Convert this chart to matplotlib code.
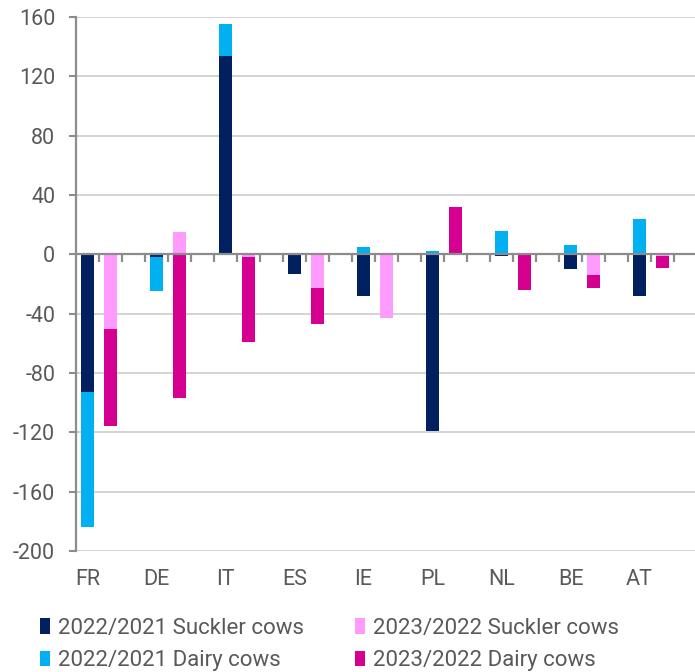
import numpy as np
import matplotlib
matplotlib.use("Agg")
import matplotlib.pyplot as plt

countries = ['FR', 'DE', 'IT', 'ES', 'IE', 'PL', 'NL', 'BE', 'AT']
suckler_21 = [-93, -2, 134, -13, -28, -119, -1, -10, -28]
dairy_21 = [-91, -23, 21, 1, 5, 2, 16, 6, 24]
suckler_23 = [-50, 15, -2, -23, -43, 0, 1, -14, -1]
dairy_23 = [-66, -97, -57, -24, 0, 32, -24, -9, -8]

yticks = [-200, -160, -120, -80, -40, 0, 40, 80, 120, 160]

c_suck21 = '#002060'
c_dairy21 = '#00B0F0'
c_suck23 = '#FF9BFF'
c_dairy23 = '#D5008F'
txt = '#595959'
axis_gray = '#8C8C8C'

plt.rcParams['font.family'] = ['Roboto', 'DejaVu Sans']

def stack_base(top, base):
    top = np.asarray(top, float)
    base = np.asarray(base, float)
    same = np.sign(top) == np.sign(base)
    return np.where(same, base, 0.0)

fig = plt.figure(figsize=(6.95, 6.72), dpi=100)
ax = fig.add_axes([76/695, 1-551/672, (694.7-76)/695, (551-17)/672])

x1 = np.arange(len(countries)) * 3
x2 = x1 + 1
w = 0.6

ax.bar(x1, suckler_21, w, color=c_suck21, zorder=3, label='2022/2021 Suckler cows')
ax.bar(x1, dairy_21, w, bottom=stack_base(dairy_21, suckler_21), color=c_dairy21, zorder=3,
       label='2022/2021 Dairy cows')
ax.bar(x2, suckler_23, w, color=c_suck23, zorder=3, label='2023/2022 Suckler cows')
ax.bar(x2, dairy_23, w, bottom=stack_base(dairy_23, suckler_23), color=c_dairy23, zorder=3,
       label='2023/2022 Dairy cows')

ax.set_xlim(-0.5, 26.4)
ax.set_ylim(-200, 160)
ax.set_yticks(yticks)
ax.set_yticklabels([str(v) for v in yticks])
ax.yaxis.grid(True, color='#D0D0D0', lw=1.3, zorder=0)
ax.set_axisbelow(True)

# zero axis line with small category ticks
ax.axhline(0, color=axis_gray, lw=1.6, zorder=4)
bounds = np.arange(1, 27) - 0.5
ax.vlines(bounds, -5, 0, color=axis_gray, lw=1.6, zorder=2)

ax.set_xticks(x1)
ax.set_xticklabels(countries)
ax.tick_params(axis='x', length=0, pad=13, labelsize=15.5, labelcolor=txt)
ax.tick_params(axis='y', length=5, width=1.5, color=axis_gray, pad=10,
               labelsize=15.5, labelcolor=txt)

for s in ['top', 'right', 'bottom']:
    ax.spines[s].set_visible(False)
ax.spines['left'].set_color(axis_gray)
ax.spines['left'].set_linewidth(1.6)

handles, labels = ax.get_legend_handles_labels()
fig.legend(handles, labels,
           loc='upper left', bbox_to_anchor=(40/695, 1-618/672), ncol=2,
           frameon=False, fontsize=16, labelcolor=txt,
           handlelength=0.45, handleheight=0.7, handletextpad=0.35,
           columnspacing=2.3, labelspacing=0.5, borderpad=0, borderaxespad=0)

fig.savefig('out.png', dpi=100)
